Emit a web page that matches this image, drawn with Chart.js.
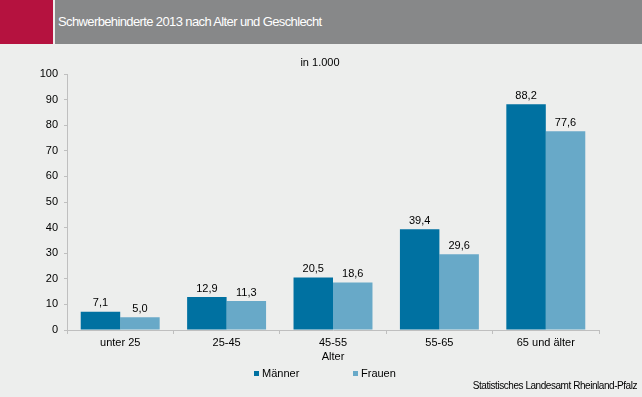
<!DOCTYPE html>
<html>
<head>
<meta charset="utf-8">
<script src="https://cdn.jsdelivr.net/npm/chart.js@4"></script>
<style>
  html, body { margin: 0; padding: 0; background: #edeeed; }
  #wrap { position: relative; width: 642px; height: 397px; overflow: hidden; font-family: "Liberation Sans", Arial, sans-serif; }
  #red { position: absolute; left: 0; top: 0; width: 53px; height: 44px; background: #b5123f; }
  #bar { position: absolute; left: 55px; top: 0; right: 0; height: 44px; background: #878889; }
  #head { position: absolute; left: 58px; top: 14px; color: #fff; font-size: 13px; letter-spacing: -0.62px; }
  #src { position: absolute; right: 5px; top: 380px; font-size: 10px; color: #000; letter-spacing: -0.45px; }
  canvas { position: absolute; left: 0; top: 0; }
</style>
</head>
<body>
<div id="wrap">
  <canvas id="c" width="642" height="397"></canvas>
  <div id="red"></div>
  <div id="bar"></div>
  <div id="head">Schwerbehinderte 2013 nach Alter und Geschlecht</div>
  <div id="src">Statistisches Landesamt Rheinland-Pfalz</div>
</div>
<script>
// Daten
var kategorien = ['unter 25', '25-45', '45-55', '55-65', '65 und älter'];
var maenner = [7.1, 12.9, 20.5, 39.4, 88.2];
var frauen = [5.0, 11.3, 18.6, 29.6, 77.6];
var serien = ['Männer', 'Frauen'];
var einheit = 'in 1.000';
var achseX = 'Alter';

var schrift = '"Liberation Sans", Arial, sans-serif';
var grau = '#bfbfbf';

// Werte über den Balken + Untertitel + Legende
var extras = {
  id: 'extras',
  afterDatasetsDraw: function(chart) {
    var ctx = chart.ctx;
    ctx.save();
    ctx.font = '11px ' + schrift;
    ctx.fillStyle = '#000';
    ctx.textAlign = 'center';
    ctx.textBaseline = 'bottom';
    chart.data.datasets.forEach(function(ds, i) {
      chart.getDatasetMeta(i).data.forEach(function(bar, j) {
        ctx.fillText(ds.data[j].toFixed(1).replace('.', ','), bar.x, bar.y - 3);
      });
    });
    // Untertitel
    ctx.textBaseline = 'middle';
    ctx.fillText(einheit, (chart.chartArea.left + chart.chartArea.right) / 2 - 13, 63);
    // Legende
    var xs = [254, 353];
    ctx.textAlign = 'left';
    chart.data.datasets.forEach(function(ds, i) {
      ctx.fillStyle = ds.backgroundColor;
      ctx.fillRect(xs[i], 371, 5, 5);
      ctx.fillStyle = '#000';
      ctx.fillText(ds.label, xs[i] + 8, 374);
    });
    ctx.restore();
  }
};

new Chart(document.getElementById('c'), {
  type: 'bar',
  data: {
    labels: kategorien,
    datasets: [
      { label: serien[0], data: maenner, backgroundColor: '#0071a1' },
      { label: serien[1], data: frauen, backgroundColor: '#68a9c8' }
    ]
  },
  options: {
    responsive: false,
    animation: false,
    events: [],
    layout: { padding: { left: 0, right: 43, top: 74, bottom: 33 } },
    plugins: { legend: { display: false }, tooltip: { enabled: false } },
    datasets: { bar: { categoryPercentage: 0.742, barPercentage: 1 } },
    scales: {
      x: {
        grid: { drawOnChartArea: false, color: grau, tickLength: 4, offset: true },
        border: { color: grau },
        ticks: { color: '#000', padding: 2, font: { family: schrift, size: 11 } },
        title: { display: true, text: achseX, color: '#000', padding: 0, font: { family: schrift, size: 11 } },
        afterFit: function(s) { s.height = 34; }
      },
      y: {
        min: 0, max: 100,
        grid: { drawOnChartArea: false, color: grau, tickLength: 3 },
        border: { color: grau },
        ticks: { stepSize: 10, color: '#000', padding: 6, font: { family: schrift, size: 11 } },
        afterFit: function(s) { s.width = 67; }
      }
    }
  },
  plugins: [extras]
});
</script>
</body>
</html>
